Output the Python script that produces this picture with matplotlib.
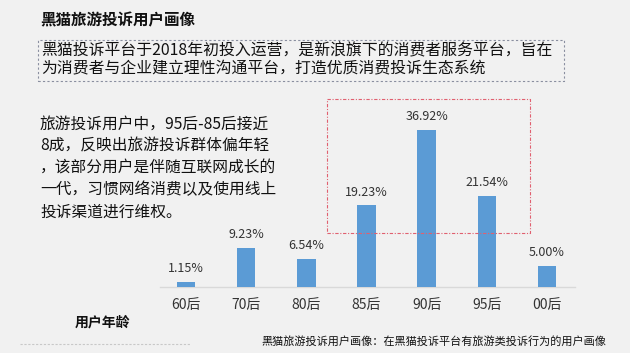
import matplotlib
matplotlib.use("Agg")
import matplotlib.pyplot as plt
from matplotlib.patches import Rectangle
from matplotlib.lines import Line2D

plt.rcParams['font.family'] = ['Noto Sans CJK SC', 'DejaVu Sans']

# данные
categories = ["60后", "70后", "80后", "85后", "90后", "95后", "00后"]
shares = [1.15, 9.23, 6.54, 19.23, 36.92, 21.54, 5.00]

title = "黑猫旅游投诉用户画像"
intro = ("黑猫投诉平台于2018年初投入运营，是新浪旗下的消费者服务平台，旨在\n"
         "为消费者与企业建立理性沟通平台，打造优质消费投诉生态系统")
comment_lines = [
    "旅游投诉用户中，95后-85后接近",
    "8成，反映出旅游投诉群体偏年轻",
    "，该部分用户是伴随互联网成长的",
    "一代，习惯网络消费以及使用线上",
    "投诉渠道进行维权。",
]
xlabel = "用户年龄"
footnote = "黑猫旅游投诉用户画像：在黑猫投诉平台有旅游类投诉行为的用户画像"

W, H = 630, 353
fig = plt.figure(figsize=(W / 100, H / 100), dpi=100)
fig.patch.set_facecolor("#f1f1f1")


def px(x, y):
    # пиксели -> координаты фигуры
    return x / W, 1 - y / H


# заголовок
fig.text(*px(40, 20), title, fontsize=11.2, weight="bold", va="center", color="#111111")

# пунктирная рамка с описанием
x0, y0 = px(38, 81)
x1, y1 = px(564, 40)
fig.patches.append(Rectangle((x0, y0), x1 - x0, y1 - y0, transform=fig.transFigure,
                             fill=False, edgecolor="#8a8fa0", linestyle=(0, (2, 2)), lw=0.8))
fig.text(*px(41, 60), intro, fontsize=11.4, va="center", color="#111111", linespacing=1.05)

# комментарий слева
for i, line in enumerate(comment_lines):
    fig.text(*px(40, 124 + i * 22), line, fontsize=11.3, va="center", color="#111111")

# график
ax_l, ax_r, ax_b, ax_t = 160, 575, 287, 90
ax = fig.add_axes([ax_l / W, 1 - ax_b / H, (ax_r - ax_l) / W, (ax_b - ax_t) / H])
ax.set_facecolor("none")
xs = list(range(len(categories)))
bars = ax.bar(xs, shares, width=0.31, color="#5B9BD5", zorder=3)
for x, v in zip(xs, shares):
    ax.text(x, v + 1.6, f"{v:.2f}%", ha="center", va="bottom", fontsize=9, color="#333333")

ax.set_xlim(-0.432, 6.465)
ax.set_ylim(0, 46.4)
ax.set_xticks(xs)
ax.set_xticklabels(categories, fontsize=10, color="#333333")
ax.tick_params(axis="x", length=0, pad=8)
ax.set_yticks([])
for s in ["top", "right", "left"]:
    ax.spines[s].set_visible(False)
ax.spines["bottom"].set_color("#d9d9d9")
ax.spines["bottom"].set_linewidth(1)

# красная рамка вокруг 85后-95后
bx0, by0 = px(327, 233)
bx1, by1 = px(530, 99)
fig.patches.append(Rectangle((bx0, by0), bx1 - bx0, by1 - by0, transform=fig.transFigure,
                             fill=False, edgecolor="#e06070", linestyle=(0, (3, 1.5, 1, 1.5)), lw=0.8))

fig.text(*px(75, 323), xlabel, fontsize=10, weight="bold", va="center", color="#111111")
fig.lines.append(Line2D([20 / W, 190 / W], [1 - 344 / H] * 2, transform=fig.transFigure,
                        color="#c8c8c8", lw=0.8, linestyle=(0, (2, 1.5))))
fig.text(*px(606, 341), footnote, fontsize=8, ha="right", va="center", color="#111111")

fig.savefig("out.png", dpi=100, facecolor=fig.get_facecolor())
